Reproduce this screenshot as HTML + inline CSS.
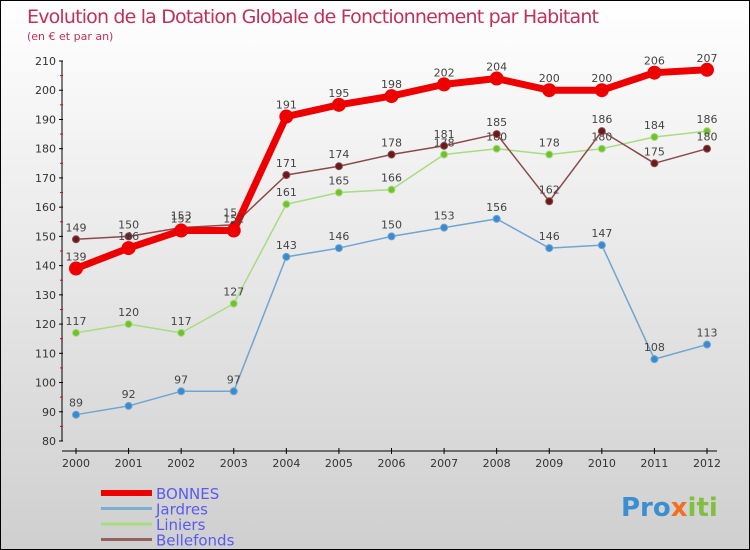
<!DOCTYPE html>
<html><head><meta charset="utf-8"><style>
body{margin:0}
#c{position:relative;width:748px;height:548px;border:1px solid #000;background:linear-gradient(#fff,#cfcfcf);font-family:"DejaVu Sans","Liberation Sans",sans-serif;overflow:hidden}
svg text{font-family:"DejaVu Sans","Liberation Sans",sans-serif}
</style></head><body>
<div id="c">
<svg id="s" width="748" height="548">
<text x="26" y="22" font-size="19" fill="#c0305a" textLength="572">Evolution de la Dotation Globale de Fonctionnement par Habitant</text>
<text x="26" y="39" font-size="11" fill="#c0305a">(en € et par an)</text>
<text x="620" y="515" font-size="26" font-weight="bold" fill="#3a8fd0">Pro<tspan fill="#f07020">x</tspan><tspan fill="#80c040">iti</tspan></text>
</svg>
</div>
<script>
const years=[2000,2001,2002,2003,2004,2005,2006,2007,2008,2009,2010,2011,2012];
const yTicks=[80,90,100,110,120,130,140,150,160,170,180,190,200,210];
const bonnes=[139,146,152,152,191,195,198,202,204,200,200,206,207];
const jardres=[89,92,97,97,143,146,150,153,156,146,147,108,113];
const liniers=[117,120,117,127,161,165,166,178,180,178,180,184,186];
const bellefonds=[149,150,153,154,171,174,178,181,185,162,186,175,180];
const NS="http://www.w3.org/2000/svg",s=document.getElementById('s');
const X=i=>75+i*(706-75)/(years.length-1);
const Y=v=>440-(v-80)*(380/130);
function mk(t,a,p){const e=document.createElementNS(NS,t);for(const k in a)e.setAttribute(k,a[k]);(p||s).appendChild(e);return e;}
let ax=mk('g',{});


mk('line',{x1:61,y1:Y(210),x2:61,y2:Y(80),stroke:'#000'},ax);
mk('line',{x1:61,y1:450,x2:716,y2:450,stroke:'#000'},ax);
yTicks.forEach(v=>{mk('line',{x1:58,x2:62,y1:Y(v),y2:Y(v),stroke:'#000'},ax);
 if(v<210)mk('line',{x1:59,x2:62,y1:Y(v+5),y2:Y(v+5),stroke:'#e00'},ax);
 const t=mk('text',{x:55,y:Y(v)+4,'font-size':11,'text-anchor':'end',fill:'#333'},ax);t.textContent=v;
 
 });
years.forEach((y,i)=>{mk('line',{x1:X(i),x2:X(i),y1:447,y2:453,stroke:'#000'},ax);
 const t=mk('text',{x:X(i),y:466,'font-size':11,'text-anchor':'middle',fill:'#333'},ax);t.textContent=y;
 
 });
function series(name,d,col,dot,w,r){
 const g=mk('g',{});
 
 
 mk('polyline',{points:d.map((v,i)=>X(i)+','+Y(v)).join(' '),fill:'none',stroke:col,'stroke-width':w,'stroke-linejoin':'round'},g);
 d.forEach((v,i)=>{const c=mk('circle',{cx:X(i),cy:Y(v),r:r,fill:dot,stroke:col,'stroke-width':1},g);
  
  
  const t=mk('text',{x:X(i),y:Y(v)-8,'font-size':11,'text-anchor':'middle',fill:'#444'},g);t.textContent=v;
  
  });
}
series('jardres',jardres,'#6fa5d0','#3a8ad0',1.5,3.5);
series('liniers',liniers,'#a8dc80','#70c030',1.5,3.5);
series('bellefonds',bellefonds,'#8a4a4a','#6a1a1a',1.5,3.5);
series('bonnes',bonnes,'#ee0000','#ee0000',7,6.5);
const leg=[['BONNES','#ee0000',6],['Jardres','#7aaed0',3],['Liniers','#a8dc80',3],['Bellefonds','#956060',3]];
leg.forEach((l,i)=>{const g=mk('g',{});
 
 
 const y=492+i*15.5;
 mk('line',{x1:100,x2:151,y1:y,y2:y,stroke:l[1],'stroke-width':l[2]},g);
 const t=mk('text',{x:155,y:y+6,'font-size':15,fill:'#5a5af0'},g);t.textContent=l[0];});
</script>
</body></html>
